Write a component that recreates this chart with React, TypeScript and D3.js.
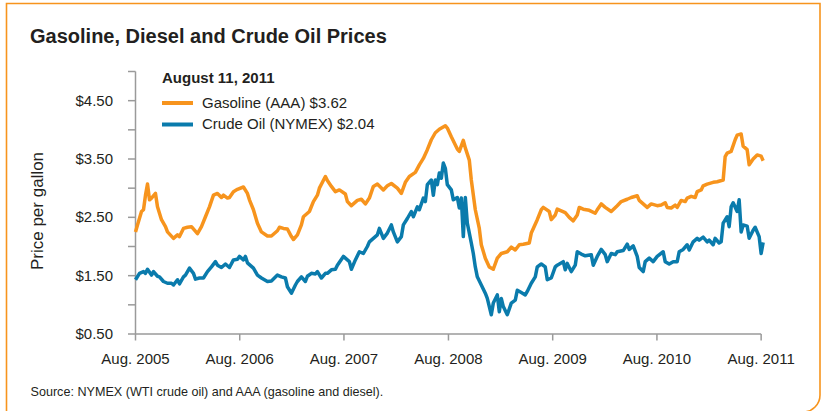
import React, { useEffect, useRef } from 'react';
import * as d3 from 'd3';

// weekly series, index = weeks since Aug 1, 2005
const startDate = new Date(2005, 7, 1);
const endDate = new Date(2011, 7, 11);

const gasoline: [number, number][] = [
  [0, 2.25], [1, 2.37], [3, 2.60], [4, 2.63], [5, 2.88], [6, 3.07], [7, 2.80], [8, 2.83], [10, 2.91],
  [11, 2.68], [13, 2.46], [15, 2.34], [16, 2.25], [19, 2.14], [21, 2.20], [22, 2.17], [24, 2.31],
  [26, 2.33], [28, 2.34], [31, 2.22], [33, 2.34], [35, 2.51], [37, 2.68], [39, 2.88], [41, 2.91],
  [43, 2.84], [44, 2.88], [46, 2.83], [47, 2.84], [49, 2.94], [51, 2.98], [54, 3.02], [56, 2.91],
  [57, 2.80], [59, 2.63], [61, 2.40], [63, 2.25], [66, 2.18], [68, 2.18], [71, 2.27], [72, 2.33],
  [74, 2.31], [76, 2.30], [78, 2.17], [79, 2.12], [81, 2.20], [83, 2.37], [84, 2.51], [87, 2.60],
  [89, 2.77], [91, 2.88], [92, 3.00], [95, 3.20], [96, 3.13], [98, 3.03], [100, 2.94], [102, 2.97],
  [105, 2.90], [106, 2.77], [108, 2.70], [111, 2.79], [113, 2.81], [115, 2.73], [117, 2.83],
  [119, 3.03], [121, 3.07], [124, 2.97], [126, 3.04], [128, 3.08], [131, 3.00], [133, 2.91],
  [135, 3.10], [137, 3.20], [140, 3.27], [142, 3.40], [144, 3.51], [146, 3.66], [148, 3.83],
  [150, 3.95], [152, 4.01], [155, 4.07], [156, 4.03], [158, 3.88], [161, 3.67], [162, 3.63],
  [164, 3.82], [165, 3.69], [167, 3.48], [168, 3.14], [170, 2.63], [172, 2.31], [173, 2.03],
  [175, 1.80], [177, 1.65], [179, 1.61], [181, 1.80], [183, 1.88], [186, 1.91], [188, 1.99],
  [190, 1.94], [192, 2.03], [194, 2.04], [197, 2.06], [198, 2.23], [201, 2.46], [203, 2.63],
  [204, 2.67], [207, 2.60], [208, 2.46], [210, 2.54], [211, 2.64], [215, 2.58], [217, 2.50],
  [219, 2.44], [221, 2.54], [222, 2.67], [224, 2.64], [227, 2.62], [230, 2.57], [231, 2.63],
  [233, 2.73], [235, 2.67], [238, 2.60], [241, 2.70], [243, 2.77], [246, 2.81], [248, 2.84],
  [251, 2.87], [252, 2.79], [255, 2.70], [256, 2.67], [258, 2.73], [261, 2.70], [263, 2.71],
  [265, 2.75], [266, 2.67], [268, 2.66], [270, 2.71], [271, 2.67], [273, 2.79], [275, 2.77],
  [276, 2.83], [278, 2.86], [280, 2.84], [281, 2.94], [283, 2.97], [284, 3.04], [286, 3.07],
  [289, 3.10], [291, 3.11], [294, 3.14], [295, 3.54], [296, 3.60], [298, 3.63], [300, 3.83],
  [301, 3.91], [303, 3.93], [304, 3.72], [306, 3.66], [307, 3.40], [309, 3.50], [311, 3.57],
  [313, 3.55], [314, 3.47],
];

const crudeOil: [number, number][] = [
  [0, 1.43], [2, 1.54], [4, 1.57], [5, 1.54], [6, 1.61], [8, 1.51], [9, 1.57], [11, 1.49], [12, 1.48],
  [14, 1.40], [16, 1.37], [18, 1.37], [19, 1.34], [21, 1.43], [22, 1.36], [24, 1.48], [25, 1.51],
  [27, 1.63], [29, 1.54], [30, 1.44], [32, 1.46], [34, 1.46], [36, 1.57], [38, 1.65], [40, 1.74],
  [41, 1.68], [43, 1.64], [45, 1.70], [47, 1.64], [49, 1.77], [51, 1.78], [52, 1.83], [54, 1.77],
  [55, 1.83], [56, 1.72], [59, 1.63], [61, 1.51], [63, 1.46], [66, 1.40], [68, 1.41], [71, 1.51],
  [73, 1.48], [75, 1.46], [76, 1.31], [78, 1.20], [80, 1.34], [81, 1.40], [83, 1.48], [85, 1.40],
  [86, 1.49], [88, 1.54], [90, 1.53], [91, 1.57], [93, 1.46], [95, 1.54], [96, 1.54], [98, 1.60],
  [100, 1.61], [101, 1.68], [104, 1.83], [107, 1.74], [108, 1.61], [110, 1.77], [112, 1.91],
  [114, 1.88], [116, 2.00], [117, 2.08], [119, 2.14], [121, 2.20], [122, 2.31], [124, 2.14],
  [126, 2.23], [128, 2.37], [129, 2.25], [131, 2.08], [133, 2.17], [134, 2.37], [136, 2.48],
  [138, 2.60], [139, 2.51], [141, 2.68], [142, 2.63], [144, 2.83], [145, 2.77], [146, 3.06],
  [148, 3.14], [149, 2.88], [150, 3.14], [151, 3.06], [152, 3.26], [153, 3.17], [154, 3.43],
  [155, 3.34], [156, 3.06], [158, 2.97], [159, 2.80], [161, 2.84], [162, 2.66], [163, 2.83],
  [164, 2.17], [165, 2.84], [166, 2.40], [168, 2.06], [169, 1.88], [170, 1.65], [171, 1.48],
  [173, 1.34], [175, 1.20], [176, 1.11], [178, 0.83], [179, 1.03], [181, 1.17], [182, 0.88],
  [183, 1.11], [184, 0.97], [186, 0.83], [188, 1.03], [190, 1.08], [191, 1.25], [193, 1.21],
  [195, 1.17], [196, 1.23], [198, 1.37], [200, 1.48], [201, 1.65], [203, 1.70], [205, 1.65],
  [206, 1.43], [208, 1.46], [210, 1.65], [211, 1.68], [214, 1.74], [215, 1.60], [216, 1.71],
  [218, 1.57], [220, 1.68], [221, 1.91], [223, 1.87], [225, 1.84], [228, 1.86], [229, 1.68],
  [231, 1.83], [233, 1.95], [235, 1.86], [236, 1.74], [238, 1.88], [240, 1.86], [241, 1.91],
  [244, 1.93], [246, 2.04], [247, 1.95], [249, 2.01], [251, 1.83], [252, 1.64], [254, 1.57],
  [255, 1.74], [257, 1.80], [259, 1.74], [261, 1.83], [264, 1.91], [265, 1.74], [267, 1.70],
  [269, 1.74], [271, 1.74], [272, 1.91], [274, 1.95], [276, 2.03], [277, 1.94], [279, 2.08],
  [281, 2.14], [282, 2.11], [284, 2.16], [286, 2.08], [287, 2.11], [289, 2.03], [290, 2.14],
  [292, 2.06], [293, 2.08], [294, 2.40], [296, 2.51], [297, 2.34], [298, 2.68], [299, 2.75],
  [301, 2.60], [302, 2.80], [303, 2.25], [304, 2.37], [306, 2.35], [307, 2.14], [309, 2.28],
  [310, 2.33], [312, 2.17], [313, 1.88], [314, 2.07],
];

const xTickYears = [2005, 2006, 2007, 2008, 2009, 2010, 2011];
const yTicks = [0.5, 1.0, 1.5, 2.0, 2.5, 3.0, 3.5, 4.0, 4.5, 5.0];
const yLabelTicks = [0.5, 1.5, 2.5, 3.5, 4.5];

const legendItems = [
  { label: 'Gasoline (AAA) $3.62', color: '#f7941d' },
  { label: 'Crude Oil (NYMEX) $2.04', color: '#0a7bac' },
];

const App = () => {
  const svgRef = useRef<SVGSVGElement>(null);

  useEffect(() => {
    const width = 826;
    const height = 411;
    const font = '"Liberation Sans", Arial, Helvetica, sans-serif';
    const ink = '#231f20';
    const axisColor = '#9a9a9a';

    const svg = d3.select(svgRef.current);
    svg.selectAll('*').remove();
    svg.attr('width', width).attr('height', height).style('font-family', font);

    // frame
    svg.append('path')
      .attr('d', 'M6.5,415 V3.5 H820 V395 A17,17 0 0 1 803,412')
      .attr('fill', 'none')
      .attr('stroke', '#f7941d')
      .attr('stroke-width', 1.6);

    svg.append('text')
      .attr('x', 30).attr('y', 42.5)
      .attr('font-size', 20).attr('font-weight', 'bold')
      .attr('fill', ink)
      .text('Gasoline, Diesel and Crude Oil Prices');

    const xScale = d3.scaleTime().domain([startDate, endDate]).range([135.5, 764]);
    const yScale = d3.scaleLinear().domain([0.5, 5.0]).range([334, 71.5]);
    const weekDate = (w: number) => d3.timeDay.offset(startDate, w * 7);

    // y axis
    svg.append('line')
      .attr('x1', 135.5).attr('x2', 135.5)
      .attr('y1', yScale(5.0)).attr('y2', yScale(0.5))
      .attr('stroke', axisColor).attr('stroke-width', 1.5);
    svg.selectAll('.ytick').data(yTicks).enter().append('line')
      .attr('class', 'ytick')
      .attr('x1', 128).attr('x2', 135.5)
      .attr('y1', d => yScale(d)).attr('y2', d => yScale(d))
      .attr('stroke', axisColor).attr('stroke-width', 1.5);
    svg.selectAll('.ylabel').data(yLabelTicks).enter().append('text')
      .attr('class', 'ylabel')
      .attr('x', 113).attr('y', d => yScale(d) + 5)
      .attr('text-anchor', 'end')
      .attr('font-size', 15).attr('fill', ink)
      .text(d => `$${d.toFixed(2)}`);

    svg.append('text')
      .attr('transform', `translate(43,${211}) rotate(-90)`)
      .attr('text-anchor', 'middle')
      .attr('font-size', 17).attr('fill', ink)
      .text('Price per gallon');

    // x axis
    const xTicks = xTickYears.map(y => new Date(y, 7, 1));
    svg.append('line')
      .attr('x1', 135.5).attr('x2', xScale(xTicks[xTicks.length - 1]))
      .attr('y1', 334).attr('y2', 334)
      .attr('stroke', axisColor).attr('stroke-width', 1.5);
    svg.selectAll('.xtick').data(xTicks).enter().append('line')
      .attr('class', 'xtick')
      .attr('x1', d => xScale(d)).attr('x2', d => xScale(d))
      .attr('y1', 334).attr('y2', 340.5)
      .attr('stroke', axisColor).attr('stroke-width', 1.5);
    svg.selectAll('.xlabel').data(xTicks).enter().append('text')
      .attr('class', 'xlabel')
      .attr('x', d => xScale(d)).attr('y', 364)
      .attr('text-anchor', 'middle')
      .attr('font-size', 15).attr('fill', ink)
      .text(d => `Aug. ${d.getFullYear()}`);

    const line = d3.line<[number, number]>()
      .x(d => xScale(weekDate(d[0])))
      .y(d => yScale(d[1]));

    svg.append('path').datum(gasoline)
      .attr('d', line)
      .attr('fill', 'none').attr('stroke', legendItems[0].color)
      .attr('stroke-width', 3.5).attr('stroke-linejoin', 'round');

    svg.append('path').datum(crudeOil)
      .attr('d', line)
      .attr('fill', 'none').attr('stroke', legendItems[1].color)
      .attr('stroke-width', 3.5).attr('stroke-linejoin', 'round');

    // legend
    svg.append('text')
      .attr('x', 162).attr('y', 83)
      .attr('font-size', 15).attr('font-weight', 'bold').attr('fill', ink)
      .text('August 11, 2011');
    const lg = svg.selectAll('.legend').data(legendItems).enter().append('g')
      .attr('class', 'legend')
      .attr('transform', (d, i) => `translate(162,${103 + i * 21.5})`);
    lg.append('line')
      .attr('x1', 0).attr('x2', 31).attr('y1', 0).attr('y2', 0)
      .attr('stroke', d => d.color).attr('stroke-width', 4);
    lg.append('text')
      .attr('x', 40).attr('y', 4.5)
      .attr('font-size', 15).attr('fill', ink)
      .text(d => d.label);

    svg.append('text')
      .attr('x', 30.5).attr('y', 396)
      .attr('font-size', 12.6).attr('fill', ink)
      .text('Source: NYMEX (WTI crude oil) and AAA (gasoline and diesel).');
  }, []);

  return (
    <svg ref={svgRef} style={{ position: 'absolute', left: 0, top: 0 }}></svg>
  );
};

export default App;
